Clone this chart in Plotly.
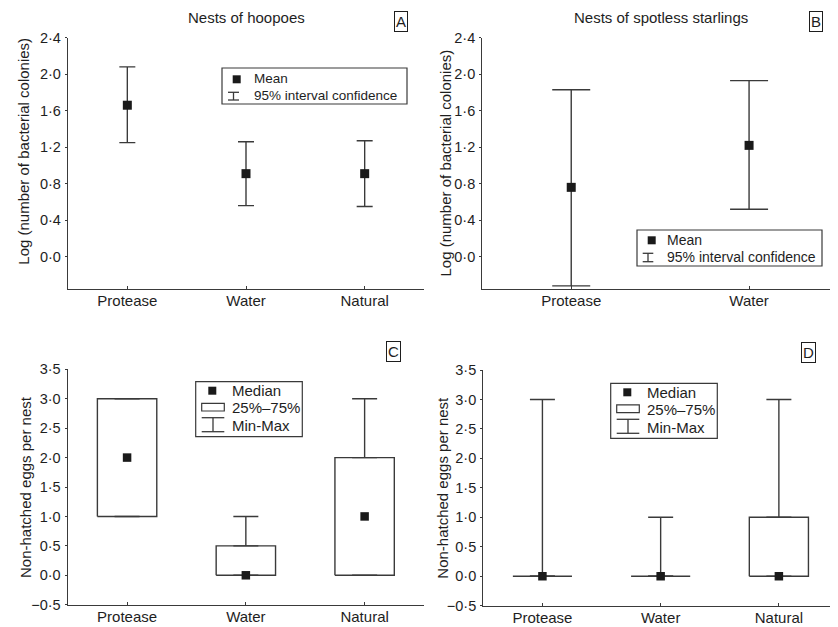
import plotly.graph_objects as go

# page is rendered with an 8px body margin; the figure fills the rest of the window
OFF = 8
W, H = 838 - OFF, 627 - OFF

# ---------------- data ----------------
cats_hoopoe = ["Protease", "Water", "Natural"]
mean_hoopoe = [1.66, 0.91, 0.91]
ci_low_hoopoe = [1.25, 0.56, 0.55]
ci_high_hoopoe = [2.08, 1.26, 1.27]

cats_starling = ["Protease", "Water"]
mean_starling = [0.76, 1.22]
ci_low_starling = [-0.32, 0.52]
ci_high_starling = [1.83, 1.93]

cats_eggs = ["Protease", "Water", "Natural"]
median_c = [2.0, 0.0, 1.0]
q1_c = [1.0, 0.0, 0.0]
q3_c = [3.0, 0.5, 2.0]
min_c = [1.0, 0.0, 0.0]
max_c = [3.0, 1.0, 3.0]

median_d = [0.0, 0.0, 0.0]
q1_d = [0.0, 0.0, 0.0]
q3_d = [0.0, 0.0, 1.0]
min_d = [0.0, 0.0, 0.0]
max_d = [3.0, 1.0, 3.0]

yticks_ab = [0.0, 0.4, 0.8, 1.2, 1.6, 2.0, 2.4]
yticklabels_ab = ["0·0", "0·4", "0·8", "1·2", "1·6", "2·0", "2·4"]
yticks_cd = [-0.5, 0.0, 0.5, 1.0, 1.5, 2.0, 2.5, 3.0, 3.5]
yticklabels_cd = ["−0·5", "0·0", "0·5", "1·0", "1·5", "2·0", "2·5", "3·0", "3·5"]

titles = ["Nests of hoopoes", "Nests of spotless starlings"]
ytitle_ab = "Log (number of bacterial colonies)"
ytitle_cd = "Non-hatched eggs per nest"

# ---------------- style ----------------
FONT = "Liberation Sans, Arial, Helvetica, sans-serif"
TXT = "#1e1e1e"
LINE = "#3a3a3a"
MARK = "#1a1a1a"
BOX_HALF = 0.25


def px(x):
    return (x - OFF) / W


def py(y):
    return 1 - (y - OFF) / H


fig = go.Figure()

# Panel A: means + CI
fig.add_trace(go.Scatter(
    x=list(range(len(cats_hoopoe))), y=mean_hoopoe, mode="markers",
    marker=dict(symbol="square", size=9, color=MARK),
    error_y=dict(type="data", symmetric=False,
                 array=[h - m for h, m in zip(ci_high_hoopoe, mean_hoopoe)],
                 arrayminus=[m - l for l, m in zip(ci_low_hoopoe, mean_hoopoe)],
                 color=LINE, thickness=1.4, width=8),
    xaxis="x", yaxis="y", showlegend=False, cliponaxis=False))

# Panel B
fig.add_trace(go.Scatter(
    x=list(range(len(cats_starling))), y=mean_starling, mode="markers",
    marker=dict(symbol="square", size=9, color=MARK),
    error_y=dict(type="data", symmetric=False,
                 array=[h - m for h, m in zip(ci_high_starling, mean_starling)],
                 arrayminus=[m - l for l, m in zip(ci_low_starling, mean_starling)],
                 color=LINE, thickness=1.4, width=19),
    xaxis="x2", yaxis="y2", showlegend=False, cliponaxis=False))


def add_boxes(med, q1, q3, mn, mx, xa, ya):
    n = len(med)
    bx, by = [], []
    for i in range(n):
        bx += [i - BOX_HALF, i + BOX_HALF, i + BOX_HALF, i - BOX_HALF, i - BOX_HALF, None]
        by += [q1[i], q1[i], q3[i], q3[i], q1[i], None]
    fig.add_trace(go.Scatter(x=bx, y=by, mode="lines",
                             line=dict(color=LINE, width=1.4),
                             xaxis=xa, yaxis=ya, showlegend=False, hoverinfo="skip"))
    # upper whiskers
    fig.add_trace(go.Scatter(
        x=list(range(n)), y=q3, mode="markers", marker=dict(size=1, opacity=0),
        error_y=dict(type="data", symmetric=False,
                     array=[a - b for a, b in zip(mx, q3)], arrayminus=[0] * n,
                     color=LINE, thickness=1.4, width=12.5),
        xaxis=xa, yaxis=ya, showlegend=False, hoverinfo="skip"))
    # lower whiskers
    fig.add_trace(go.Scatter(
        x=list(range(n)), y=q1, mode="markers", marker=dict(size=1, opacity=0),
        error_y=dict(type="data", symmetric=False,
                     array=[0] * n, arrayminus=[a - b for a, b in zip(q1, mn)],
                     color=LINE, thickness=1.4, width=12.5),
        xaxis=xa, yaxis=ya, showlegend=False, hoverinfo="skip"))
    # medians
    fig.add_trace(go.Scatter(
        x=list(range(n)), y=med, mode="markers",
        marker=dict(symbol="square", size=8.5, color=MARK),
        xaxis=xa, yaxis=ya, showlegend=False, cliponaxis=False))


add_boxes(median_c, q1_c, q3_c, min_c, max_c, "x3", "y3")
add_boxes(median_d, q1_d, q3_d, min_d, max_d, "x4", "y4")


def xaxis_cfg(domain, cats, anchor):
    return dict(domain=domain, anchor=anchor, range=[-0.5, len(cats) - 0.5],
                tickmode="array", tickvals=list(range(len(cats))), ticktext=cats,
                showline=True, linecolor=LINE, linewidth=1.3, showgrid=False,
                zeroline=False, ticks="inside", ticklen=3, tickcolor=LINE,
                ticklabelstandoff=-2,
                tickfont=dict(family=FONT, size=15, color=TXT), automargin=False)


def yaxis_cfg(domain, rng, tv, tt, anchor):
    return dict(domain=domain, anchor=anchor, range=rng,
                tickmode="array", tickvals=tv, ticktext=tt,
                showline=True, linecolor=LINE, linewidth=1.3, showgrid=False,
                zeroline=False, ticks="outside", ticklen=2, tickcolor=LINE,
                ticklabelstandoff=1,
                tickfont=dict(family=FONT, size=14.5, color=TXT), automargin=False)


fig.update_layout(
    width=W, height=H, margin=dict(l=0, r=0, t=0, b=0),
    paper_bgcolor="white", plot_bgcolor="white", template="none",
    showlegend=False,
    xaxis=xaxis_cfg([px(68), px(424)], cats_hoopoe, "y"),
    yaxis=yaxis_cfg([py(289), py(37.7)], [-0.354, 2.4], yticks_ab, yticklabels_ab, "x"),
    xaxis2=xaxis_cfg([px(482.3), 1.0], cats_starling, "y2"),
    yaxis2=yaxis_cfg([py(289), py(37.7)], [-0.354, 2.4], yticks_ab, yticklabels_ab, "x2"),
    xaxis3=xaxis_cfg([px(67.7), px(424)], cats_eggs, "y3"),
    yaxis3=yaxis_cfg([py(604.7), py(369.3)], [-0.5, 3.5], yticks_cd, yticklabels_cd, "x3"),
    xaxis4=xaxis_cfg([px(483.3), 1.0], cats_eggs, "y4"),
    yaxis4=yaxis_cfg([py(605.7), py(370)], [-0.5, 3.5], yticks_cd, yticklabels_cd, "x4"),
)

annotations = []
shapes = []


def text(x, y, s, size=15, xanchor="left", angle=0, border=False):
    a = dict(x=px(x), y=py(y), xref="paper", yref="paper", text=s, showarrow=False,
             xanchor=xanchor, yanchor="middle", textangle=angle,
             font=dict(family=FONT, size=size, color=TXT))
    if border:
        a.update(bordercolor=TXT, borderwidth=1, borderpad=1)
    annotations.append(a)


def line(x0, y0, x1, y1, w=1.3):
    shapes.append(dict(type="line", xref="paper", yref="paper",
                       x0=px(x0), y0=py(y0), x1=px(x1), y1=py(y1),
                       line=dict(color=LINE, width=w)))


def rect(x0, y0, x1, y1, fill=None, w=1.3):
    shapes.append(dict(type="rect", xref="paper", yref="paper",
                       x0=px(x0), y0=py(y0), x1=px(x1), y1=py(y1),
                       line=dict(color=LINE, width=w),
                       fillcolor=fill if fill else "rgba(0,0,0,0)"))


# titles
text(246.7, 18, titles[0], 15, "center")
text(660.7, 18, titles[1], 15, "center")
# panel letters
text(400.5, 21.5, "A", 15, "center", border=True)
text(815.5, 21.5, "B", 15, "center", border=True)
text(393.5, 351.5, "C", 15, "center", border=True)
text(808, 352, "D", 15, "center", border=True)
# y titles
text(22.7, 151, ytitle_ab, 15, "center", angle=-90)
text(445, 163.5, ytitle_ab, 15, "center", angle=-90)
text(25, 487, ytitle_cd, 15, "center", angle=-90)
text(441.7, 488, ytitle_cd, 15, "center", angle=-90)


def legend_ci(bx0, by0, bx1, by1, sqx, sqy, icx0, icx1, icy0, icy1, tx, ty1, ty2, size):
    rect(bx0, by0, bx1, by1, fill="white", w=1.2)
    rect(sqx - 4, sqy - 4, sqx + 4, sqy + 4, fill=MARK, w=0)
    cx = (icx0 + icx1) / 2
    line(icx0, icy0, icx1, icy0)
    line(cx, icy0, cx, icy1)
    line(icx0, icy1, icx1, icy1)
    text(tx, ty1, "Mean", size)
    text(tx, ty2, "95% interval confidence", size)


legend_ci(222, 68, 407, 104, 236.7, 79.3, 228, 239, 92.3, 100, 252, 79, 95.5, 13.5)
legend_ci(637, 230, 822, 266, 651.7, 240.3, 642.7, 653.3, 253.3, 261.7, 664.5, 240, 257, 14)


def legend_box(dx, dy):
    rect(195.7 + dx, 381.7 + dy, 302.3 + dx, 436.7 + dy, fill="white", w=1.2)
    rect(208.3 + dx, 386.7 + dy, 216.3 + dx, 394.7 + dy, fill=MARK, w=0)
    rect(201.7 + dx, 403.3 + dy, 224.3 + dx, 411 + dy, w=1.2)
    line(201.7 + dx, 417.7 + dy, 224.3 + dx, 417.7 + dy)
    line(213 + dx, 417.7 + dy, 213 + dx, 431.7 + dy)
    line(201.7 + dx, 431.7 + dy, 224.3 + dx, 431.7 + dy)
    text(230 + dx, 390.5 + dy, "Median", 15)
    text(230 + dx, 407.5 + dy, "25%–75%", 15)
    text(230 + dx, 425.5 + dy, "Min-Max", 15)


legend_box(0, 0)
legend_box(415, 1.6)

fig.update_layout(annotations=annotations, shapes=shapes)

fig.write_html("out.html")
